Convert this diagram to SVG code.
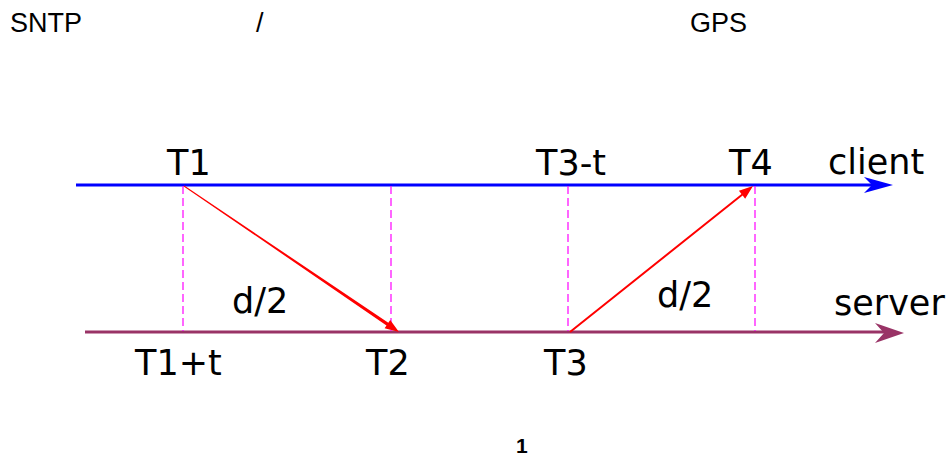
<svg xmlns="http://www.w3.org/2000/svg" width="949" height="459" viewBox="0 0 949 459">
<style>
.hdr{font-family:"Liberation Sans",Arial,sans-serif;font-size:27px;fill:#000}
.lbl{font-family:"DejaVu Sans",Verdana,sans-serif;font-size:35px;fill:#000}
.cap{font-family:"Liberation Sans",Arial,sans-serif;font-size:21px;font-weight:bold;fill:#000}
.dash{stroke:#ff00ff;stroke-width:1.2;stroke-dasharray:8 4;fill:none}
</style>
<rect width="949" height="459" fill="#fff"/>
<g id="header">
<text class="hdr" x="10" y="32">SNTP</text>
<text class="hdr" x="256" y="32">/</text>
<text class="hdr" x="690" y="32">GPS</text>
</g>
<g id="client">
<line x1="76" y1="185" x2="880" y2="185" stroke="#0000ff" stroke-width="3"/>
<polygon points="893,185 864,177 872,185 864,193" fill="#0000ff"/>
<text class="lbl" x="828" y="174">client</text>
</g>
<g id="server">
<line x1="85" y1="332" x2="890" y2="332" stroke="#993366" stroke-width="3"/>
<polygon points="904,333 875,323 884,333 875,343" fill="#993366"/>
<text class="lbl" x="834" y="315">server</text>
</g>
<g id="connectors">
<line class="dash" x1="183" y1="186" x2="183" y2="331"/>
<line class="dash" x1="391" y1="186" x2="391" y2="331"/>
<line class="dash" x1="568" y1="186" x2="568" y2="331"/>
<line class="dash" x1="755" y1="186" x2="755" y2="331"/>
<polygon points="184.28,185.59 388.3,322.78 390.2,320.0 399,332 384.6,328.2 386.5,325.42 183.72,186.41" fill="#ff0000"/>
<polygon points="569.38,331.22 741.43,193.96 738.93,190.83 753,186 745.17,198.65 742.67,195.52 570.62,332.78" fill="#ff0000"/>
</g>
<g id="labels">
<text class="lbl" x="167" y="175">T1</text>
<text class="lbl" x="536" y="175">T3-t</text>
<text class="lbl" x="729" y="175">T4</text>
<text class="lbl" x="232" y="313">d/2</text>
<text class="lbl" x="657" y="307">d/2</text>
<text class="lbl" x="135" y="375">T1+t</text>
<text class="lbl" x="366" y="375">T2</text>
<text class="lbl" x="544" y="375">T3</text>
</g>
<g id="caption">
<text class="cap" x="516" y="453">1</text>
</g>
</svg>
